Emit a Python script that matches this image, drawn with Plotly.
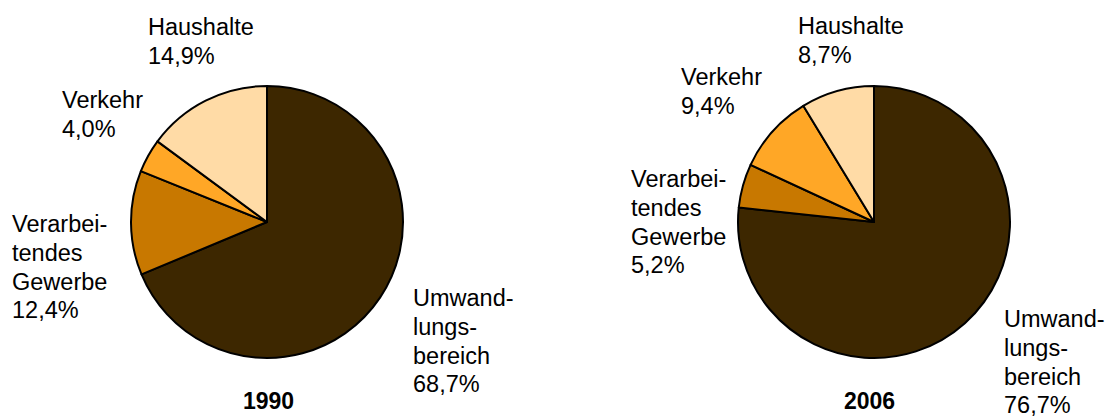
import plotly.graph_objects as go

W, H = 1108, 417

categories = ["Umwandlungsbereich", "Verarbeitendes Gewerbe", "Verkehr", "Haushalte"]
label_lines = [["Umwand-", "lungs-", "bereich"], ["Verarbei-", "tendes", "Gewerbe"], ["Verkehr"], ["Haushalte"]]
years = ["1990", "2006"]
values_1990 = [68.7, 12.4, 4.0, 14.9]
values_2006 = [76.7, 5.2, 9.4, 8.7]
colors = ["#3D2700", "#C87800", "#FFA726", "#FFDBA6"]

FONT = "Liberation Sans, Arial, sans-serif"
FS = 23.5
LINE = 28.8

# pie geometry (pixels): center x, center y, radius
pies = [(267, 222, 136), (874, 222, 136)]
# label anchor positions (left x, first line center y) per pie per category
label_pos = [
    [(414, 298), (13, 224), (63, 100), (149, 27)],
    [(1005, 319), (632, 179), (682, 77), (799, 26)],
]
year_pos = [(268, 401), (870, 401)]

def px(x):
    return x / W

def py(y):
    return 1 - y / H

fig = go.Figure()
annotations = []
for i, vals in enumerate([values_1990, values_2006]):
    cx, cy, r = pies[i]
    fig.add_trace(go.Pie(
        values=vals,
        labels=categories,
        sort=False,
        direction="clockwise",
        rotation=0,
        textinfo="none",
        hoverinfo="label+percent",
        marker=dict(colors=colors, line=dict(color="black", width=2)),
        domain=dict(x=[px(cx - r), px(cx + r)], y=[py(cy + r), py(cy - r)]),
        showlegend=False,
    ))
    for j, v in enumerate(vals):
        lines = label_lines[j] + [f"{v:.1f}".replace(".", ",") + "%"]
        lx, ly = label_pos[i][j]
        for k, line in enumerate(lines):
            annotations.append(dict(
                x=px(lx - 3), y=py(ly + k * LINE), xref="paper", yref="paper",
                xanchor="left", yanchor="middle", align="left",
                text=line, showarrow=False,
                font=dict(family=FONT, size=FS, color="black"),
            ))
    yx, yy = year_pos[i]
    annotations.append(dict(
        x=px(yx), y=py(yy), xref="paper", yref="paper",
        xanchor="center", yanchor="middle",
        text="<b>" + years[i] + "</b>", showarrow=False,
        font=dict(family=FONT, size=23, color="black"),
    ))

fig.update_layout(
    width=W, height=H,
    margin=dict(l=0, r=0, t=0, b=0),
    paper_bgcolor="white", plot_bgcolor="white",
    annotations=annotations,
)

fig.write_html(
    "out.html",
    config={"displayModeBar": False},
    post_script="document.body.style.margin='0';document.body.style.overflow='hidden';",
)
